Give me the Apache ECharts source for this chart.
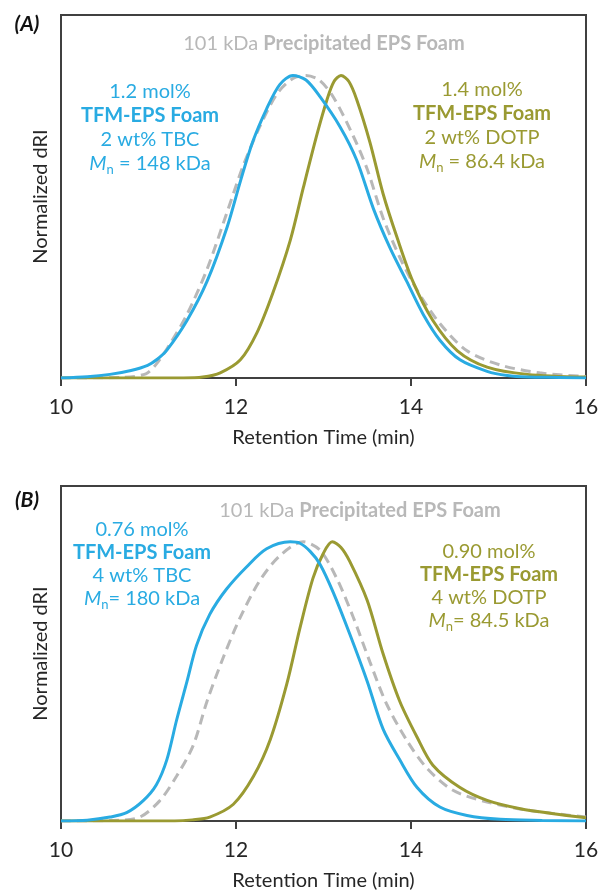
<!DOCTYPE html>
<html>
<head>
<meta charset="utf-8">
<script src="https://cdn.jsdelivr.net/npm/echarts@6/dist/echarts.min.js"></script>
<style>
html, body { margin: 0; padding: 0; background: #fff; }
#chart { width: 603px; height: 892px; }
</style>
</head>
<body>
<div id="chart"></div>
<script>
// retention time (min), normalized dRI
var aBlue = [[10,0],[10.3,0.004],[10.56,0.012],[10.8,0.025],[10.99,0.042],[11.1,0.062],[11.21,0.092],[11.44,0.19],[11.67,0.32],[11.9,0.5],[12.05,0.65],[12.19,0.78],[12.35,0.89],[12.5,0.97],[12.65,1.0],[12.8,0.985],[12.96,0.93],[13.19,0.83],[13.38,0.72],[13.57,0.56],[13.76,0.43],[13.95,0.32],[14.14,0.21],[14.33,0.125],[14.56,0.06],[14.87,0.022],[15.1,0.008],[15.33,0.003],[15.7,0.002],[16,0]];
var aOlive = [[10,0],[11.4,0],[11.62,0.003],[11.82,0.017],[12.05,0.06],[12.24,0.15],[12.42,0.28],[12.62,0.455],[12.77,0.63],[12.93,0.81],[13.04,0.92],[13.12,0.98],[13.2,1.0],[13.29,0.98],[13.38,0.92],[13.53,0.78],[13.68,0.61],[13.84,0.465],[14.02,0.32],[14.25,0.19],[14.53,0.09],[14.87,0.036],[15.33,0.012],[16,0.003]];
var aGrey = [[10,0],[10.7,0.002],[10.97,0.014],[11.1,0.05],[11.25,0.115],[11.44,0.21],[11.67,0.36],[11.9,0.55],[12.08,0.7],[12.27,0.83],[12.47,0.94],[12.65,0.99],[12.8,1.0],[12.95,0.985],[13.11,0.93],[13.34,0.8],[13.5,0.69],[13.68,0.53],[13.87,0.4],[14.07,0.29],[14.33,0.18],[14.64,0.09],[15.02,0.043],[15.47,0.017],[16,0.005]];

var bBlue = [[10,0],[10.3,0.003],[10.56,0.014],[10.75,0.03],[10.94,0.073],[11.09,0.13],[11.21,0.22],[11.32,0.36],[11.44,0.5],[11.55,0.63],[11.7,0.74],[11.89,0.83],[12.12,0.91],[12.35,0.975],[12.62,1.0],[12.73,0.995],[12.85,0.965],[12.96,0.92],[13.11,0.82],[13.3,0.67],[13.5,0.5],[13.68,0.33],[13.87,0.22],[14.07,0.12],[14.33,0.05],[14.64,0.02],[15.02,0.006],[15.5,0.002],[16,0]];
var bOlive = [[10,0],[11.3,0],[11.5,0.004],[11.7,0.014],[11.97,0.06],[12.2,0.16],[12.39,0.29],[12.58,0.49],[12.73,0.69],[12.88,0.87],[13.0,0.96],[13.1,1.0],[13.2,0.98],[13.3,0.93],[13.5,0.79],[13.68,0.6],[13.87,0.43],[14.07,0.3],[14.25,0.2],[14.56,0.12],[14.87,0.074],[15.25,0.044],[15.63,0.026],[16,0.012]];
var bGrey = [[10,0],[10.6,0.002],[10.9,0.014],[11.13,0.073],[11.32,0.16],[11.51,0.27],[11.67,0.43],[11.86,0.59],[12.05,0.73],[12.27,0.86],[12.5,0.95],[12.77,1.0],[12.96,0.97],[13.15,0.87],[13.34,0.73],[13.53,0.57],[13.72,0.42],[13.95,0.29],[14.18,0.19],[14.48,0.11],[14.87,0.068],[15.33,0.039],[16,0.014]];

var blueLinesA = ['1.2 mol%', 'TFM-EPS Foam', '2 wt% TBC', '{i|M}{s|n}{r| = 148 kDa}'];
var oliveLinesA = ['1.4 mol%', 'TFM-EPS Foam', '2 wt% DOTP', '{i|M}{s|n}{r| = 86.4 kDa}'];
var blueLinesB = ['0.76 mol%', 'TFM-EPS Foam', '4 wt% TBC', '{i|M}{s|n}{r|= 180 kDa}'];
var oliveLinesB = ['0.90 mol%', 'TFM-EPS Foam', '4 wt% DOTP', '{i|M}{s|n}{r|= 84.5 kDa}'];

var BLUE = '#29abe2';
var OLIVE = '#9a9a32';
var GREY = '#b8b8b8';
var AXIS = '#404040';
var FONT = 'Lato';

var chart = echarts.init(document.getElementById('chart'), null, { renderer: 'canvas' });

function gridBox(top, height) {
    return {
        left: 61, right: 17, top: top, height: height,
        show: true, borderColor: AXIS, borderWidth: 2, backgroundColor: 'transparent'
    };
}

function xAx(idx) {
    return {
        gridIndex: idx, type: 'value', min: 10, max: 16, interval: 2,
        name: 'Retention Time (min)', nameLocation: 'middle', nameGap: 50,
        nameTextStyle: { fontFamily: FONT, fontSize: 20, color: '#262626' },
        axisLine: { show: true, lineStyle: { color: AXIS, width: 2 } },
        axisTick: { show: true, length: 8, lineStyle: { color: AXIS, width: 2 } },
        axisLabel: { fontFamily: FONT, fontSize: 21, color: '#262626', margin: 19 },
        splitLine: { show: false }
    };
}

function yAx(idx) {
    return {
        gridIndex: idx, type: 'value', min: 0, max: 1.2,
        name: 'Normalized dRI', nameLocation: 'middle', nameGap: 10,
        nameTextStyle: { fontFamily: FONT, fontSize: 20, color: '#262626' },
        axisLine: { show: true, lineStyle: { color: AXIS, width: 2 } },
        axisTick: { show: false },
        axisLabel: { show: false },
        splitLine: { show: false }
    };
}

function line(name, data, idx, color, dashed) {
    return {
        name: name, type: 'line', xAxisIndex: idx, yAxisIndex: idx,
        data: data, smooth: 0.3, showSymbol: false, silent: true,
        lineStyle: { color: color, width: 3, type: dashed ? [10, 6] : 'solid' },
        z: dashed ? 1 : 2
    };
}

function block(cx, y0, lines, color, step) {
    var sub = {
        i: { fontFamily: FONT, fontSize: 20, fontStyle: 'italic', fill: color, lineHeight: 24 },
        s: { fontFamily: FONT, fontSize: 13, fill: color, lineHeight: 13, verticalAlign: 'bottom' },
        r: { fontFamily: FONT, fontSize: 20, fill: color, lineHeight: 24 }
    };
    return lines.map(function (txt, k) {
        return {
            type: 'text', x: cx, y: y0 + k * step,
            style: {
                text: txt, rich: sub, fill: color, align: 'center', verticalAlign: 'middle',
                font: (k === 1 ? 'bold ' : '') + '20px ' + FONT
            }
        };
    });
}

function header(cx, y) {
    return {
        type: 'text', x: cx, y: y,
        style: {
            text: '{n|101 kDa }{b|Precipitated EPS Foam}', align: 'center', verticalAlign: 'middle',
            rich: {
                n: { fontFamily: FONT, fontSize: 20, fill: GREY },
                b: { fontFamily: FONT, fontSize: 20, fontWeight: 'bold', fill: GREY }
            }
        }
    };
}

function panel(txt, y) {
    return {
        type: 'text', x: 27, y: y,
        style: { text: txt, font: 'italic bold 21px ' + FONT, fill: '#111', align: 'center', verticalAlign: 'middle' }
    };
}

var graphics = [panel('(A)', 24), panel('(B)', 500), header(324, 44), header(360, 511)]
    .concat(block(150, 92, blueLinesA, BLUE, 24))
    .concat(block(482, 90, oliveLinesA, OLIVE, 24))
    .concat(block(142, 530, blueLinesB, BLUE, 23))
    .concat(block(489, 552, oliveLinesB, OLIVE, 23));

chart.setOption({
    animation: false,
    backgroundColor: '#fff',
    grid: [gridBox(15, 363), gridBox(486, 338)],
    xAxis: [xAx(0), xAx(1)],
    yAxis: [yAx(0), yAx(1)],
    series: [
        line('101 kDa Precipitated EPS Foam', aGrey, 0, GREY, true),
        line('1.4 mol% TFM-EPS Foam', aOlive, 0, OLIVE, false),
        line('1.2 mol% TFM-EPS Foam', aBlue, 0, BLUE, false),
        line('101 kDa Precipitated EPS Foam', bGrey, 1, GREY, true),
        line('0.90 mol% TFM-EPS Foam', bOlive, 1, OLIVE, false),
        line('0.76 mol% TFM-EPS Foam', bBlue, 1, BLUE, false)
    ],
    graphic: graphics
});
</script>
</body>
</html>
